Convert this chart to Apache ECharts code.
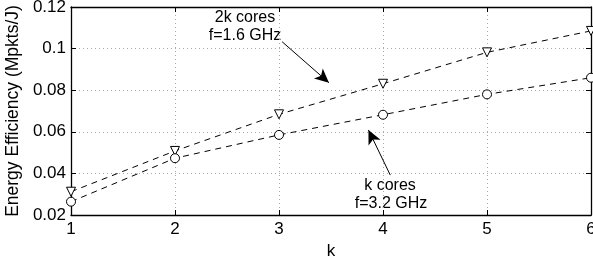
<!DOCTYPE html>
<html>
<head>
<meta charset="utf-8">
<script src="https://cdn.jsdelivr.net/npm/echarts@6/dist/echarts.min.js"></script>
<style>
  html, body { margin: 0; padding: 0; background: #fff; }
  #chart { width: 593px; height: 265px; }
</style>
</head>
<body>
<div id="chart"></div>
<script>
const ks = [1, 2, 3, 4, 5, 6];
const cores2k = [0.0312, 0.0508, 0.0684, 0.0831, 0.0982, 0.1085];
const coresK = [0.0264, 0.0473, 0.0585, 0.0682, 0.0780, 0.0860];
const yTicks = [0.02, 0.04, 0.06, 0.08, 0.1, 0.12];

// arrows in data coordinates: [tail, tip]
const arrow2k = [[3.03, 0.1033], [3.48, 0.0836]];
const arrowK = [[4.07, 0.0392], [3.86, 0.0609]];

const font = "'Liberation Sans', Arial, sans-serif";

const chart = echarts.init(document.getElementById("chart"));

const gridLine = { show: true, lineStyle: { color: "#a8a8a8", type: [1, 3], width: 1 } };
const frame = { show: true, lineStyle: { color: "#000", width: 1.3 } };
const ticks = { show: true, inside: true, length: 5, lineStyle: { color: "#000" } };

function arrowLine(pts) {
  return [
    { coord: pts[0], symbol: "none" },
    { coord: pts[1], symbol: "arrow", symbolSize: [10, 14] }
  ];
}

const option = {
  animation: false,
  grid: { left: 71, right: 2, top: 7, bottom: 50, outerBoundsMode: "none", containLabel: false },
  xAxis: [
    {
      type: "value",
      min: 1,
      max: 6,
      interval: 1,
      name: "k",
      nameLocation: "middle",
      nameGap: 21,
      nameTextStyle: { color: "#000", fontSize: 17, fontFamily: font },
      axisLine: frame,
      axisTick: ticks,
      axisLabel: { color: "#000", fontSize: 17, fontFamily: font, margin: 6 },
      splitLine: gridLine
    },
    {
      type: "value",
      position: "top",
      min: 1,
      max: 6,
      interval: 1,
      axisLine: frame,
      axisTick: ticks,
      axisLabel: { show: false },
      splitLine: { show: false }
    }
  ],
  yAxis: [
    {
      type: "value",
      min: 0.02,
      max: 0.12,
      interval: 0.02,
      name: "Energy Efficiency (Mpkts/J)",
      nameLocation: "middle",
      nameGap: 45,
      nameTextStyle: { color: "#000", fontSize: 17.5, fontFamily: font },
      axisLine: frame,
      axisTick: ticks,
      axisLabel: {
        color: "#000", fontSize: 17, fontFamily: font, margin: 5,
        formatter: (v) => yTicks.includes(+v.toFixed(2)) ? String(+v.toFixed(2)) : ""
      },
      splitLine: gridLine
    },
    {
      type: "value",
      position: "right",
      min: 0.02,
      max: 0.12,
      interval: 0.02,
      axisLine: frame,
      axisTick: ticks,
      axisLabel: { show: false },
      splitLine: { show: false }
    }
  ],
  series: [
    {
      name: "2k cores f=1.6 GHz",
      type: "line",
      data: ks.map((k, i) => [k, cores2k[i]]),
      symbol: "triangle",
      symbolRotate: 180,
      symbolSize: 9,
      itemStyle: { color: "#fff", borderColor: "#000", borderWidth: 1 },
      lineStyle: { color: "#000", width: 1, type: [6, 5] },
      markLine: {
        silent: true,
        animation: false,
        lineStyle: { color: "#000", width: 1, type: "solid" },
        label: { show: false },
        data: [arrowLine(arrow2k), arrowLine(arrowK)]
      },
      z: 3
    },
    {
      name: "k cores f=3.2 GHz",
      type: "line",
      data: ks.map((k, i) => [k, coresK[i]]),
      symbol: "circle",
      symbolSize: 9,
      itemStyle: { color: "#fff", borderColor: "#000", borderWidth: 1 },
      lineStyle: { color: "#000", width: 1, type: [6, 5] },
      z: 3
    }
  ],
  graphic: [
    { type: "text", x: 245, y: 18, style: { text: "2k cores", font: "16px " + font, fill: "#000", align: "center", verticalAlign: "middle" } },
    { type: "text", x: 245, y: 36, style: { text: "f=1.6 GHz", font: "16px " + font, fill: "#000", align: "center", verticalAlign: "middle" } },
    { type: "text", x: 390, y: 186, style: { text: "k cores", font: "16px " + font, fill: "#000", align: "center", verticalAlign: "middle" } },
    { type: "text", x: 391, y: 204, style: { text: "f=3.2 GHz", font: "16px " + font, fill: "#000", align: "center", verticalAlign: "middle" } }
  ]
};

chart.setOption(option);
</script>
</body>
</html>
